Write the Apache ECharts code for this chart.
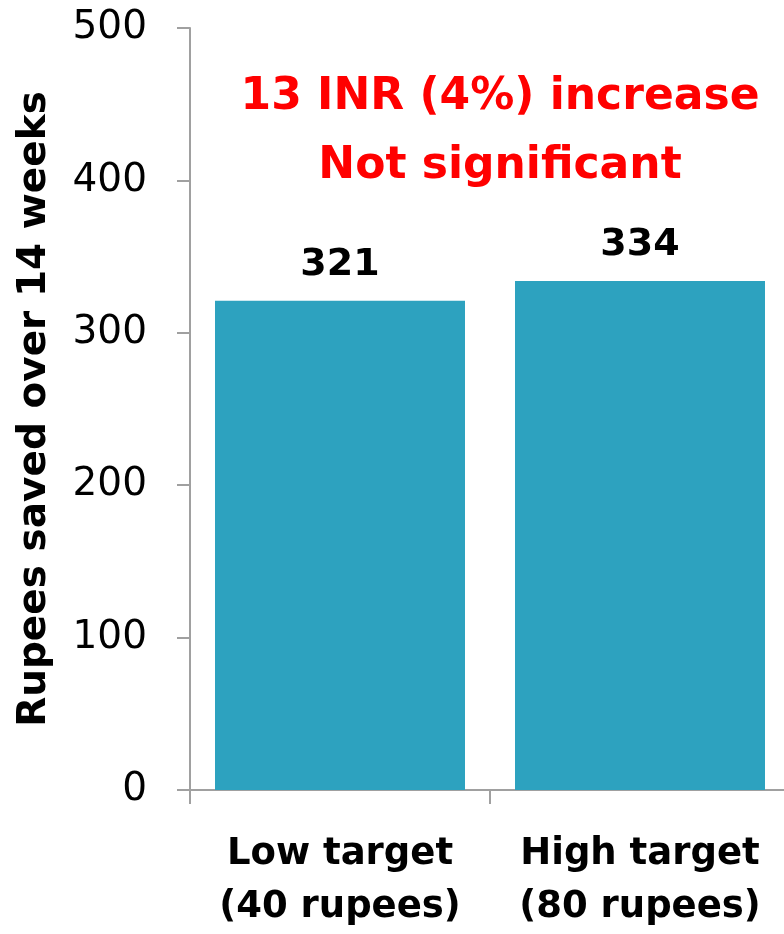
<!DOCTYPE html>
<html>
<head>
<meta charset="utf-8">
<script src="https://cdn.jsdelivr.net/npm/echarts@6/dist/echarts.min.js"></script>
<style>
  html, body { margin: 0; padding: 0; background: #ffffff; overflow: hidden; }
  #chart { width: 790px; height: 934px; }
</style>
</head>
<body>
<div id="chart"></div>
<script>
// Savings by target group
const categories = ['Low target\n(40 rupees)', 'High target\n(80 rupees)'];
const savedRupees = [321, 334];
const axisTitle = 'Rupees saved over 14 weeks';
const noteLines = ['13 INR (4%) increase', 'Not significant'];

const FONT = '"DejaVu Sans", sans-serif';
const AXIS_GREY = '#a0a0a0';

const chart = echarts.init(document.getElementById('chart'), null, { renderer: 'canvas' });

chart.setOption({
  animation: false,
  backgroundColor: '#ffffff',
  grid: { left: 190, top: 28, width: 600, height: 764, containLabel: false },
  xAxis: {
    type: 'category',
    data: categories,
    axisLine: { show: true, lineStyle: { color: AXIS_GREY, width: 2 } },
    axisTick: { show: true, length: 14, lineStyle: { color: AXIS_GREY, width: 2 } },
    axisLabel: {
      interval: 0,
      hideOverlap: false,
      margin: 38,
      fontFamily: FONT,
      fontWeight: 'bold',
      fontSize: 37,
      lineHeight: 53,
      color: '#000000'
    }
  },
  yAxis: {
    type: 'value',
    min: 0,
    max: 500,
    interval: 100,
    name: axisTitle,
    nameLocation: 'middle',
    nameGap: 136,
    nameTextStyle: { fontFamily: FONT, fontWeight: 'bold', fontSize: 39, color: '#000000' },
    splitLine: { show: false },
    axisLine: { show: true, lineStyle: { color: AXIS_GREY, width: 2 } },
    axisTick: { show: true, length: 13, lineStyle: { color: AXIS_GREY, width: 2 } },
    axisLabel: { margin: 43, fontFamily: FONT, fontSize: 39, color: '#000000' }
  },
  series: [{
    type: 'bar',
    data: savedRupees,
    barWidth: 250,
    itemStyle: { color: '#2da2bf' },
    label: {
      show: true,
      position: 'top',
      distance: 17,
      fontFamily: FONT,
      fontWeight: 'bold',
      fontSize: 38,
      color: '#000000'
    }
  }],
  graphic: [{
    type: 'text',
    x: 500,
    y: 63,
    style: {
      text: noteLines.join('\n'),
      align: 'center',
      verticalAlign: 'top',
      font: 'bold 44px ' + FONT,
      lineHeight: 69,
      fill: '#ff0000'
    }
  }]
});
</script>
</body>
</html>
